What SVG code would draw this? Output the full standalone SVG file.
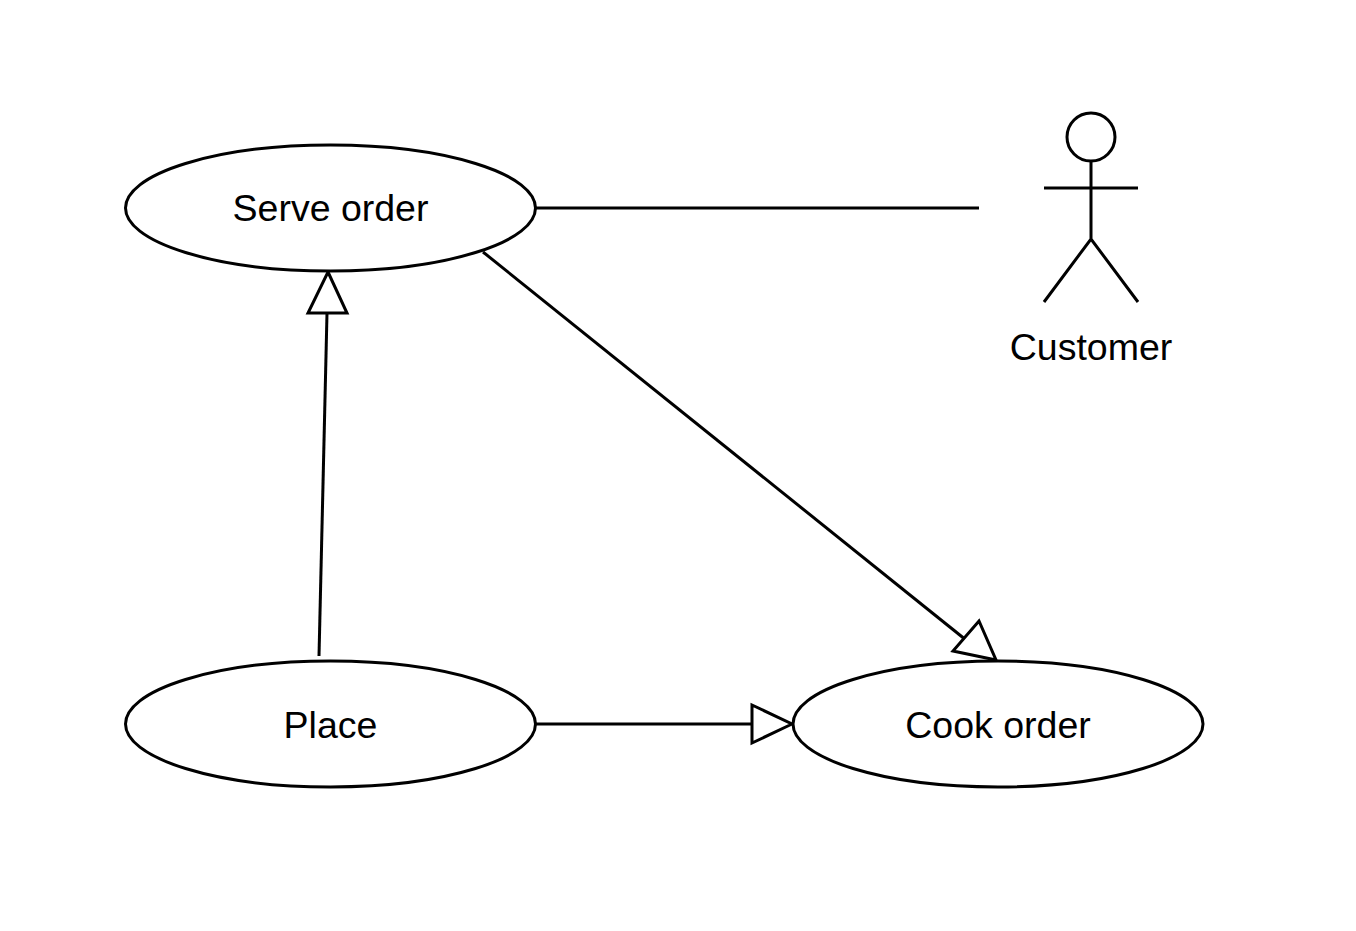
<svg xmlns="http://www.w3.org/2000/svg" width="1356" height="931" viewBox="0 0 1356 931">
<style>
.s{fill:none;stroke:#000;stroke-width:3;stroke-linejoin:miter}
.e{fill:#fff;stroke:#000;stroke-width:3}
.h{fill:#fff;stroke:#000;stroke-width:3;stroke-linejoin:miter}
.t{font-family:"Liberation Sans",Arial,sans-serif;font-size:37.5px;fill:#000;text-anchor:middle}
</style>
<rect width="1356" height="931" fill="#fff"/>
<g id="connectors">
<path class="s" d="M536 208H979"/>
<path class="s" d="M319 656L327 313"/>
<path class="h" d="M328 272L347 313H308Z"/>
<path class="s" d="M483 252L966 640"/>
<path class="h" d="M996 660L953 651L979 621Z"/>
<path class="s" d="M536 724H752"/>
<path class="h" d="M792 724L752 743V705Z"/>
</g>
<g id="serve-order"><ellipse class="e" cx="330.500" cy="208" rx="205" ry="63"/><text class="t" x="330.500" y="221">Serve order</text></g>
<g id="place"><ellipse class="e" cx="330.500" cy="724" rx="205" ry="63"/><text class="t" x="330.500" y="738">Place</text></g>
<g id="cook-order"><ellipse class="e" cx="998" cy="724" rx="205" ry="63"/><text class="t" x="998" y="738">Cook order</text></g>
<g id="customer"><circle class="s" cx="1091" cy="137" r="24"/><path class="s" d="M1091 161V239M1044 188H1138M1044 302L1091 239L1138 302"/><text class="t" x="1091" y="360">Customer</text></g>
</svg>
